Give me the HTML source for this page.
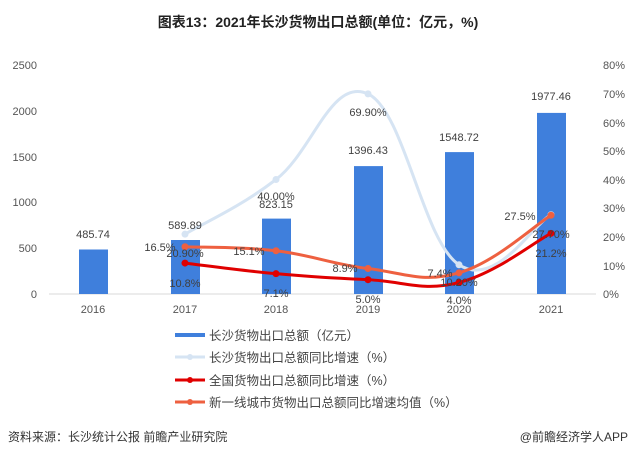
<!DOCTYPE html>
<html><head><meta charset="utf-8"><style>
body{margin:0;width:636px;height:459px;background:#fff;overflow:hidden;font-family:"Liberation Sans","Noto Sans CJK SC",sans-serif;}
svg text{font-family:"Liberation Sans","Noto Sans CJK SC",sans-serif;}
</style></head><body>
<svg width="636" height="459" xmlns="http://www.w3.org/2000/svg">
<text x="318" y="27" text-anchor="middle" font-size="14" font-weight="bold" fill="#222">图表13：2021年长沙货物出口总额(单位：亿元，%)</text>
<g font-size="11" fill="#555" text-anchor="end">
<text x="37" y="298">0</text><text x="37" y="252">500</text><text x="37" y="206">1000</text><text x="37" y="161">1500</text><text x="37" y="115">2000</text><text x="37" y="69">2500</text>
</g>
<g font-size="11" fill="#555" text-anchor="start">
<text x="603" y="298">0%</text><text x="603" y="270">10%</text><text x="603" y="241">20%</text><text x="603" y="212">30%</text><text x="603" y="184">40%</text><text x="603" y="155">50%</text><text x="603" y="127">60%</text><text x="603" y="98">70%</text><text x="603" y="69">80%</text>
</g>
<line x1="49" y1="294" x2="596" y2="294" stroke="#d9d9d9"/>
<g fill="#3f7fdc">
<rect x="79" y="249.5" width="29" height="44.5"/>
<rect x="171" y="240" width="29" height="54"/>
<rect x="262" y="218.6" width="29" height="75.4"/>
<rect x="354" y="166.1" width="29" height="127.9"/>
<rect x="445" y="152.1" width="29" height="141.9"/>
<rect x="537" y="112.9" width="29" height="181.1"/>
</g>
<g id="lines"></g>
<g font-size="11" fill="#555" text-anchor="middle">
<text x="93" y="313">2016</text><text x="185" y="313">2017</text><text x="276" y="313">2018</text><text x="368" y="313">2019</text><text x="459" y="313">2020</text><text x="551" y="313">2021</text>
</g>
<g font-size="11" fill="#404040" text-anchor="middle">
<text x="93" y="238">485.74</text><text x="185" y="229">589.89</text><text x="276" y="208">823.15</text><text x="276" y="200">40.00%</text>
<text x="368" y="154">1396.43</text><text x="368" y="116">69.90%</text><text x="459" y="141">1548.72</text><text x="551" y="100">1977.46</text>
<text x="160" y="251">16.5%</text><text x="185" y="257">20.90%</text><text x="185" y="287">10.8%</text>
<text x="249" y="255">15.1%</text><text x="276" y="297">7.1%</text><text x="345" y="272">8.9%</text><text x="368" y="303">5.0%</text>
<text x="440" y="277">7.4%</text><text x="459" y="286">10.20%</text><text x="459" y="304">4.0%</text>
<text x="520" y="220">27.5%</text><text x="551" y="238">27.70%</text><text x="551" y="257">21.2%</text>
</g>
<g font-size="12.5" fill="#444">
<rect x="175" y="333" width="30" height="4" fill="#3f7fdc"/><text x="209" y="340">长沙货物出口总额（亿元）</text>
<line x1="175" y1="357" x2="205" y2="357" stroke="#d6e4f3" stroke-width="3"/><circle cx="190" cy="357" r="3" fill="#d6e4f3"/><text x="209" y="362">长沙货物出口总额同比增速（%）</text>
<line x1="175" y1="380" x2="205" y2="380" stroke="#e00000" stroke-width="3"/><circle cx="190" cy="380" r="3" fill="#e00000"/><text x="209" y="385">全国货物出口总额同比增速（%）</text>
<line x1="175" y1="402" x2="205" y2="402" stroke="#ee6040" stroke-width="3"/><circle cx="190" cy="402" r="3" fill="#ee6040"/><text x="209" y="407">新一线城市货物出口总额同比增速均值（%）</text>
</g>
<text x="8" y="441" font-size="12" fill="#333">资料来源：长沙统计公报 前瞻产业研究院</text>
<text x="628" y="441" font-size="12" fill="#333" text-anchor="end">@前瞻经济学人APP</text>
</svg>
<script>
(function(){
var xs=[185,276,368,459,551];
function y(p){return 294-p*2.8625;}
function path(vals){
 var P=xs.map(function(x,i){return [x,y(vals[i])];});
 var d="M"+P[0][0]+","+P[0][1];
 for(var i=0;i<P.length-1;i++){
  var p0=P[i-1]||P[i],p1=P[i],p2=P[i+1],p3=P[i+2]||P[i+1],t=0.2;
  var c1=[p1[0]+(p2[0]-p0[0])*t,p1[1]+(p2[1]-p0[1])*t];
  var c2=[p2[0]-(p3[0]-p1[0])*t,p2[1]-(p3[1]-p1[1])*t];
  d+=" C"+c1+" "+c2+" "+p2;
 }
 return [d,P];
}
var series=[[[20.9,40,69.9,10.2,27.7],"#d6e4f3"],[[16.5,15.1,8.9,7.4,27.5],"#ee6040"],[[10.8,7.1,5.0,4.0,21.2],"#e00000"]];
var g=document.getElementById("lines"),s="";
series.forEach(function(se){var r=path(se[0]);s+='<path d="'+r[0]+'" fill="none" stroke="'+se[1]+'" stroke-width="3"/>';r[1].forEach(function(p){s+='<circle cx="'+p[0]+'" cy="'+p[1]+'" r="3.5" fill="'+se[1]+'"/>';});});
g.innerHTML=s;
})();
</script>
</body></html>
